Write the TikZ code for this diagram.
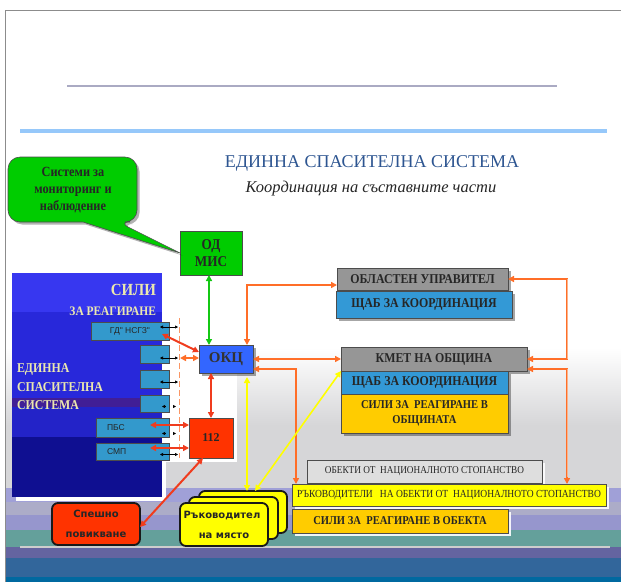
\documentclass[tikz,border=0pt]{standalone}
\usepackage{fontspec}
\setmainfont{Liberation Serif}
\newfontfamily\cserif[FakeStretch=0.88]{Liberation Serif}
\newfontfamily\csans{Liberation Sans}
\newfontfamily\wsans{DejaVu Sans}
\usetikzlibrary{arrows.meta,shadows}

\newcommand\fsz[2]{\fontsize{#1}{#2}\selectfont}
% \placebox[style]{x1}{y1}{x2}{y2}{name}{text}
\newcommand\placebox[7][]{%
  \node[#1, minimum width={#4pt-#2pt}, minimum height={#5pt-#3pt}] (#6) at ({(#2+#4)/2},{(#3+#5)/2}) {#7};}

\definecolor{cGreen}{RGB}{0,204,0}
\definecolor{cGreenA}{RGB}{20,200,20}
\definecolor{cSteel}{RGB}{51,153,204}
\definecolor{cStaff}{RGB}{51,153,214}
\definecolor{cOkc}{RGB}{51,102,255}
\definecolor{cRed}{RGB}{255,51,0}
\definecolor{cRedA}{RGB}{240,60,30}
\definecolor{cGray}{RGB}{150,150,150}
\definecolor{cLight}{RGB}{222,222,222}
\definecolor{cGold}{RGB}{255,204,0}
\definecolor{cYel}{RGB}{255,255,0}
\definecolor{cOrange}{RGB}{255,110,40}
\definecolor{cOrangeL}{RGB}{250,180,140}
\definecolor{cOrangeD}{RGB}{250,150,100}
\definecolor{cTitle}{RGB}{45,85,145}
\definecolor{cCream}{RGB}{235,232,175}
\definecolor{cRule}{RGB}{170,170,195}
\definecolor{cSky}{RGB}{150,200,250}
\definecolor{cBgA}{RGB}{214,214,216}
\definecolor{bLav}{RGB}{160,160,215}
\definecolor{bGry}{RGB}{172,172,200}
\definecolor{bLavB}{RGB}{150,150,205}
\definecolor{bTeal}{RGB}{100,160,155}
\definecolor{bPur}{RGB}{100,100,160}
\definecolor{bBlue}{RGB}{50,102,155}
\definecolor{bDeep}{RGB}{0,105,160}
\definecolor{bLine}{RGB}{205,205,205}
\definecolor{pA}{RGB}{55,55,240}
\definecolor{pB}{RGB}{40,40,218}
\definecolor{pC}{RGB}{65,30,150}
\definecolor{pD}{RGB}{35,35,200}
\definecolor{pE}{RGB}{15,15,145}

\begin{document}
\begin{tikzpicture}[x=1pt,y=-1pt,
  every node/.style={inner sep=0pt,outer sep=0pt,align=center},
  edged/.style={draw=black!70,line width=0.6pt},
  gshade/.style={drop shadow={shadow xshift=2.5pt,shadow yshift=-2.5pt,opacity=0.35,fill=black}},
  wshade/.style={drop shadow={shadow xshift=3pt,shadow yshift=-3pt,opacity=0.9,fill=white}},
  hdfont/.style={font=\cserif\bfseries\fsz{13.5}{15},text=black!85},
  smallbox/.style={edged,fill=cSteel},
  stext/.style={font=\csans\fsz{8.5}{10},text=black!85},
  greybox/.style={edged,fill=cGray,gshade,hdfont},
  staffbox/.style={edged,fill=cStaff,gshade,hdfont},
  goldbox/.style={edged,fill=cGold,font=\cserif\bfseries\fsz{12}{15},text=black!85},
  roundbox/.style={draw=black!90,line width=1.8pt,rounded corners=6pt,font=\wsans\bfseries\fsz{10}{20},text=black!85},
  paneltext/.style={text=cCream,font=\cserif\bfseries\fsz{13}{15}},
  conn/.style={line width=2pt,{Triangle[length=6pt,width=6pt]}-{Triangle[length=6pt,width=6pt]}},
  oconn/.style={conn,draw=cOrange},
  rconn/.style={conn,draw=cRedA},
  yconn/.style={conn,line width=1.6pt,draw=cYel},
  gconn/.style={conn,line width=1.6pt,draw=cGreenA},
  kconn/.style={line width=0.6pt,black,{Triangle[length=3pt,width=3pt]}-{Triangle[length=3pt,width=3pt]}},
  khead/.style={line width=0.6pt,black,-{Triangle[length=3pt,width=3pt]}},
]
\useasboundingbox (0,0) rectangle (621,582);

% page background and bands
\fill[white] (0,0) rectangle (621,582);
\shade[top color=white,bottom color=cBgA] (6,348) rectangle (621,425);
\fill[cBgA] (6,425) rectangle (621,488);
\fill[bLav] (6,488) rectangle (621,502);
\fill[bGry] (6,502) rectangle (621,515);
\fill[bLavB] (6,515) rectangle (621,530);
\fill[bTeal] (6,530) rectangle (621,547);
\fill[bPur] (6,547) rectangle (621,558);
\fill[bBlue] (6,558) rectangle (621,577);
\fill[bDeep] (6,577) rectangle (621,582);
\draw[line width=1.2pt,bLine] (20,547) -- (610,547);
\fill[white] (163,318) rectangle (237,462);

% frame and rules
\draw[line width=1pt,black!45] (5,582) -- (5,10) -- (621,10);
\draw[line width=2.2pt,cRule] (67,86) -- (557,86);
\draw[line width=4pt,cSky] (20,131) -- (607,131);

% headings
\node[font=\fsz{18}{20},text=cTitle] (title) at (372,163) {ЕДИННА СПАСИТЕЛНА СИСТЕМА};
\node[font=\itshape\fsz{16.5}{18},text=black!85] (subtitle) at (371,189) {Координация на съставните части};

% monitoring systems and callout
\placebox[edged,fill=cGreen,font=\cserif\bfseries\fsz{15}{17},text=black!85]{180}{231}{242}{275}{odmis}{ОД\\МИС}
\filldraw[fill=cGreen,draw=black!70,line width=0.6pt,rounded corners=12pt,
  drop shadow={shadow xshift=2.5pt,shadow yshift=-2.5pt,opacity=0.3,fill=black}]
  (8,190) |- (137,157) |- (118,222) [sharp corners] -- (odmis.west) -- (83,222)
  [rounded corners=12pt] -| (8,190) -- cycle;
\node[font=\cserif\bfseries\fsz{14}{17},text=black!85] (calltext) at (73,190) {Системи за\\мониторинг и\\наблюдение};

% unified rescue system panel
\fill[white] (16,277) rectangle (166,501);
\fill[pA] (12,273) rectangle (162,312);
\fill[pB] (12,312) rectangle (162,398);
\fill[pC] (12,398) rectangle (162,407);
\fill[pD] (12,407) rectangle (162,437);
\fill[pE] (12,437) rectangle (162,497);
\node[paneltext,font=\cserif\bfseries\fsz{17}{19},anchor=east] (psili) at (156,290) {СИЛИ};
\node[paneltext,anchor=east] (pza) at (156,311) {ЗА РЕАГИРАНЕ};
\node[paneltext,font=\cserif\bfseries\fsz{13.5}{18.5},anchor=west,align=left] (pess) at (17,387) {ЕДИННА\\СПАСИТЕЛНА\\СИСТЕМА};

% response forces
\placebox[smallbox]{91}{322}{169}{340}{gd}{}
\node[stext] at (gd) {ГД" НСГЗ"};
\placebox[smallbox]{140}{345}{169}{363}{b2}{}
\placebox[smallbox]{140}{370}{169}{388}{b3}{}
\placebox[smallbox]{140}{395}{169}{412}{b4}{}
\placebox[smallbox]{96}{418}{169}{437}{pbs}{}
\node[stext,anchor=west] at ([xshift=11pt]pbs.west) {ПБС};
\placebox[smallbox]{96}{443}{169}{460}{smp}{}
\node[stext,anchor=west] at ([xshift=11pt]smp.west) {СМП};

\draw[cOrangeD,line width=1pt,dash pattern=on 6pt off 3pt] (179,318) -- (179,458);

% operational centres
\placebox[edged,fill=cOkc,font=\bfseries\fsz{15}{17},text=black!80,gshade]{199}{345}{253}{373}{okc}{ОКЦ}
\placebox[edged,fill=cRed,font=\bfseries\fsz{12}{14},text=black!85]{189}{418}{233}{458}{n112}{112}

% administration
\placebox[greybox]{337}{268}{508}{290}{obl}{ОБЛАСТЕН УПРАВИТЕЛ}
\placebox[staffbox]{336}{291}{512}{318}{shtab1}{ЩАБ ЗА КООРДИНАЦИЯ}
\placebox[greybox]{341}{347}{527}{371}{kmet}{КМЕТ НА ОБЩИНА}
\placebox[staffbox]{341}{371}{508}{394}{shtab2}{ЩАБ ЗА КООРДИНАЦИЯ}
\placebox[goldbox,gshade]{341}{394}{508}{433}{silio}{СИЛИ ЗА\ \ РЕАГИРАНЕ В\\ОБЩИНАТА}

% national economy sites
\placebox[edged,fill=cLight,wshade,font=\cserif\fsz{10.5}{12},text=black!85]{307}{460}{542}{483}{obekti}{ОБЕКТИ ОТ\ \ НАЦИОНАЛНОТО СТОПАНСТВО}
\placebox[edged,fill=cYel,wshade,font=\cserif\fsz{10.8}{12},text=black!85]{292}{484}{606}{506}{rukob}{РЪКОВОДИТЕЛИ\ \ \ НА ОБЕКТИ ОТ\ \ НАЦИОНАЛНОТО СТОПАНСТВО}
\placebox[goldbox,wshade,font=\cserif\bfseries\fsz{12}{14}]{292}{509}{508}{533}{siliob}{СИЛИ ЗА\ \ РЕАГИРАНЕ В ОБЕКТА}

% emergency call and on-site leaders
\placebox[roundbox,fill=cRed]{52}{503}{140}{545}{spesh}{Спешно\\повикване}
\placebox[roundbox,fill=cYel]{199}{491}{287}{533}{leadback}{}
\placebox[roundbox,fill=cYel]{189}{497}{278}{539}{leadmid}{}
\placebox[roundbox,fill=cYel]{180}{503}{268}{546}{lead}{\hspace*{-4pt}Ръководител\\на място}

% connectors
\coordinate (dsh) at (180,0);
\coordinate (gv) at (209,0);
\coordinate (oT) at (247,285);
\coordinate (oL) at (296,369);
\coordinate (oR) at (567,279);
\coordinate (oR2) at (567,369);
\coordinate (yv) at (247,0);
\coordinate (pbsR) at (150,425);
\coordinate (smpR) at (150,448);

\draw[gconn] (odmis.south -| gv) -- (okc.north -| gv);
\draw[oconn] (okc.north -| oT) |- (obl.west |- oT);
\draw[oconn] (okc.east) -- (kmet.west);
\draw[oconn] (okc.east |- oL) -| (rukob.north -| oL);
\draw[oconn] (obl.east) -| (oR |- kmet.east) -- (kmet.east);
\draw[line width=0.8pt,cOrangeL] (oR) -- (oR |- kmet.east);
\draw[oconn] (kmet.east |- oR2) -| (rukob.north -| oR2);
\draw[line width=0.8pt,cOrangeL,shorten >=7pt] (oR2) -- (rukob.north -| oR2);

\draw[rconn] ([xshift=-7pt,yshift=-3pt]gd.east) -- ([yshift=7pt]okc.west);
\draw[oconn,line width=1.5pt] ([yshift=-4pt]b2.east -| dsh) -- ([yshift=-4pt]b2.east -| okc.west);
\draw[rconn] (n112.north) -- (n112.north |- okc.south);
\draw[rconn] (pbsR) -- (pbsR -| n112.west);
\draw[rconn] (smpR) -- (smpR -| n112.west);
\draw[rconn] ([xshift=-8pt]n112.south) -- ([yshift=-3pt]spesh.east);

\draw[kconn] ([xshift=-9pt,yshift=4pt]gd.east) -- ([xshift=9pt,yshift=4pt]gd.east);
\draw[kconn] ([xshift=-9pt,yshift=-4pt]b2.east) -- ([xshift=9pt,yshift=-4pt]b2.east);
\draw[kconn] ([xshift=-9pt,yshift=-3pt]b3.east) -- ([xshift=9pt,yshift=-3pt]b3.east);
\draw[khead] ([xshift=-4pt,yshift=-3pt]b4.east) -- ([xshift=-7pt,yshift=-3pt]b4.east);
\draw[khead] ([xshift=4pt,yshift=-3pt]b4.east) -- ([xshift=7pt,yshift=-3pt]b4.east);
\draw[khead] ([xshift=-4pt,yshift=-6pt]pbs.east) -- ([xshift=-7pt,yshift=-6pt]pbs.east);
\draw[khead] ([xshift=4pt,yshift=-6pt]pbs.east) -- ([xshift=7pt,yshift=-6pt]pbs.east);
\draw[kconn] ([xshift=-9pt,yshift=-3pt]smp.east) -- ([xshift=9pt,yshift=-3pt]smp.east);

\draw[yconn,shorten <=4pt] (okc.south -| yv) -- (leadback.north -| yv);
\draw[yconn] (kmet.south west) -- ([xshift=12pt]leadback.north);
\end{tikzpicture}
\end{document}
